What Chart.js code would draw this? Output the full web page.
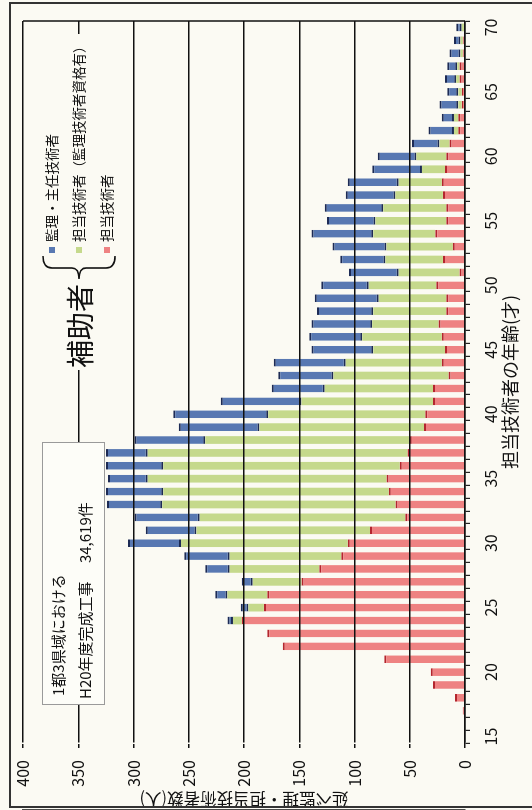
<!DOCTYPE html>
<html lang="ja">
<head>
<meta charset="utf-8">
<title>担当技術者の年齢別 延べ技術者数</title>
<script src="https://cdn.jsdelivr.net/npm/chart.js@4.4.1/dist/chart.umd.min.js"></script>
<style>
  html, body { margin: 0; padding: 0; background: #fbfaf3; overflow: hidden; }
  /* the chart is drawn upright (810x532) and turned a quarter turn to the left, like the scan */
  #wrap {
    position: absolute; left: 0; top: 0;
    width: 810px; height: 532px;
    transform-origin: 0 0;
    transform: translate(0px, 810px) rotate(-90deg);
  }
</style>
</head>
<body>
<div id="wrap"><canvas id="grafico" width="810" height="532"></canvas></div>
<script>
// 年齢 (才)
const ages = [15, 16, 17, 18, 19, 20, 21, 22, 23, 24, 25, 26, 27, 28, 29, 30, 31, 32, 33, 34, 35,
  36, 37, 38, 39, 40, 41, 42, 43, 44, 45, 46, 47, 48, 49, 50, 51, 52, 53, 54, 55, 56, 57, 58, 59, 60,
  61, 62, 63, 64, 65, 66, 67, 68, 69, 70];

// 担当技術者
const tantou = [0, 0, 2, 9, 29, 31, 73, 165, 179, 202, 182, 179, 148, 132, 112, 106, 86, 54, 63, 69, 71,
  59, 52, 50, 37, 36, 29, 29, 15, 21, 18, 21, 24, 17, 17, 26, 5, 20, 11, 27, 17, 17, 20, 21, 18, 17,
  14, 6, 6, 3, 3, 5, 5, 2, 2, 1];

// 担当技術者（監理技術者資格有）
const tantouShikaku = [0, 0, 0, 0, 0, 0, 0, 0, 0, 8, 14, 36, 44, 81, 101, 151, 157, 186, 211, 204, 216,
  214, 235, 185, 149, 142, 119, 98, 104, 87, 65, 72, 60, 66, 61, 61, 55, 52, 60, 56, 64, 57, 43, 39, 21, 27,
  9, 4, 4, 3, 3, 3, 2, 2, 2, 2];

// 監理・主任技術者
const kanri = [0, 0, 0, 0, 0, 0, 0, 0, 0, 5, 7, 11, 10, 22, 41, 48, 46, 59, 50, 52, 36,
  52, 38, 64, 73, 86, 73, 48, 50, 65, 56, 48, 55, 51, 58, 43, 45, 41, 49, 56, 44, 53, 45, 46, 45, 35,
  25, 23, 11, 17, 10, 10, 9, 10, 6, 5];

const FONT = "'Noto Sans CJK JP', 'Noto Sans', sans-serif";
Chart.defaults.font.family = FONT;
Chart.defaults.color = '#111';

const ctx = document.getElementById('grafico');

// 背景・外枠・凡例・注記
const decoracao = {
  id: 'decoracao',
  beforeDraw(chart) {
    const c = chart.ctx;
    c.save();
    c.fillStyle = '#fbfaf3';
    c.fillRect(0, 0, chart.width, chart.height);
    c.restore();
  },
  afterDraw(chart) {
    const c = chart.ctx;
    const a = chart.chartArea;
    c.save();

    // plot border on the far side
    c.strokeStyle = '#111';
    c.lineWidth = 1.5;
    c.beginPath();
    c.moveTo(a.right, a.top);
    c.lineTo(a.right, a.bottom);
    c.stroke();

    // outer frame
    c.strokeStyle = '#333';
    c.lineWidth = 2;
    c.beginPath();
    c.moveTo(3, chart.height);
    c.lineTo(3, 10);
    c.lineTo(807, 10);
    c.lineTo(807, chart.height);
    c.stroke();

    // legend
    c.fillStyle = '#fbfaf3';
    c.fillRect(440, 36, 336, 84);
    const items = [chart.data.datasets[2], chart.data.datasets[1], chart.data.datasets[0]];
    const rows = [52, 79, 107];
    c.font = '13.5px ' + FONT;
    c.textBaseline = 'middle';
    c.textAlign = 'left';
    items.forEach((ds, i) => {
      c.fillStyle = ds.backgroundColor;
      c.fillRect(557, rows[i] - 3, 6, 6);
      c.fillStyle = '#111';
      c.fillText(ds.label, 568, rows[i]);
    });

    // brace
    c.strokeStyle = '#111';
    c.lineWidth = 1.6;
    c.beginPath();
    c.moveTo(554, 43);
    c.quadraticCurveTo(542, 43, 542, 52);
    c.lineTo(542, 72);
    c.quadraticCurveTo(542, 79, 531, 79);
    c.quadraticCurveTo(542, 79, 542, 86);
    c.lineTo(542, 106);
    c.quadraticCurveTo(542, 115, 554, 115);
    c.stroke();

    c.font = '28px ' + FONT;
    c.textAlign = 'right';
    c.fillStyle = '#111';
    c.fillText('補助者', 526, 80);

    // note box
    c.fillStyle = '#fdfdf8';
    c.fillRect(105, 42, 262, 62);
    c.strokeStyle = '#9a9a9a';
    c.lineWidth = 1;
    c.strokeRect(105.5, 42.5, 262, 62);
    c.fillStyle = '#111';
    c.font = '15px ' + FONT;
    c.textAlign = 'left';
    c.fillText('1都3県域における', 114, 58);
    c.fillText('H20年度完成工事　 34,619件', 111, 85);

    c.restore();
  }
};

new Chart(ctx, {
  type: 'bar',
  data: {
    labels: ages,
    datasets: [
      {
        label: '担当技術者',
        data: tantou,
        backgroundColor: '#ee8282',
        borderColor: '#b3262e',
        borderWidth: { top: 2, bottom: 0, left: 0, right: 0 },
        borderSkipped: false
      },
      {
        label: '担当技術者（監理技術者資格有）',
        data: tantouShikaku,
        backgroundColor: '#c5d98c',
        borderWidth: 0
      },
      {
        label: '監理・主任技術者',
        data: kanri,
        backgroundColor: '#5878b2',
        borderColor: '#1d2b55',
        borderWidth: { top: 2, bottom: 2, left: 0, right: 0 },
        borderSkipped: false
      }
    ]
  },
  options: {
    responsive: false,
    animation: false,
    devicePixelRatio: 1,
    layout: { padding: { top: 23, right: 21, left: 0, bottom: 0 } },
    datasets: { bar: { barPercentage: 0.6, categoryPercentage: 1 } },
    plugins: {
      legend: { display: false },
      tooltip: { enabled: false }
    },
    scales: {
      x: {
        stacked: true,
        offset: true,
        grid: { display: true, drawOnChartArea: false, drawTicks: true, tickLength: 5, color: '#222', lineWidth: 1.2 },
        border: { display: true, color: '#111', width: 1.5 },
        ticks: {
          autoSkip: false,
          maxRotation: 0,
          padding: 11,
          font: { size: 16 },
          callback: function(val, i) {
            return ages[i] % 5 === 0 ? String(ages[i]) : '';
          }
        },
        title: {
          display: true,
          text: '担当技術者の年齢(才)',
          font: { size: 18 },
          padding: { top: 0, bottom: 11 }
        },
        afterFit: function(scale) { scale.height = 67; }
      },
      y: {
        stacked: true,
        min: 0,
        max: 400,
        grid: { color: '#111', lineWidth: 1.5, tickLength: 5, z: 1 },
        border: { display: true, color: '#111', width: 1.5 },
        ticks: { stepSize: 50, padding: 12, font: { size: 16 } },
        title: {
          display: true,
          text: '延べ監理・担当技術者数(人)',
          font: { size: 16.5 },
          padding: { top: 1, bottom: 0 }
        },
        afterFit: function(scale) { scale.width = 67; }
      }
    }
  },
  plugins: [decoracao]
});
</script>
</body>
</html>
